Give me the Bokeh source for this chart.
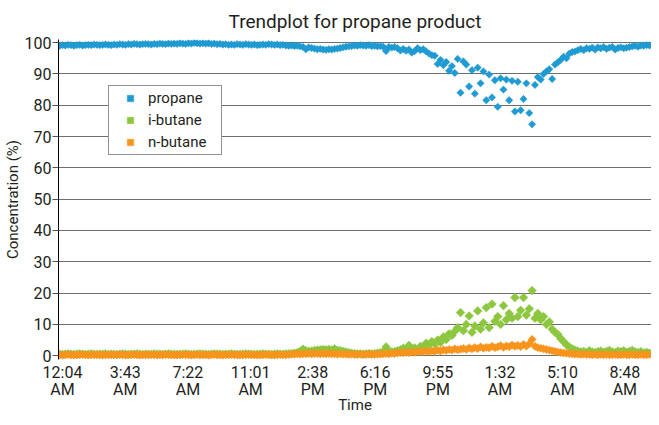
import math
from bokeh.plotting import figure
from bokeh.models import Range1d, FixedTicker, Legend, LegendItem
from bokeh.embed import file_html
from bokeh.resources import INLINE

# sample times, minutes after 12:04 AM (one sample every 10 minutes)
time_min = list(range(-10, 2051, 10))

propane = [
    99.0, 99.2, 99.1, 99.3, 99.2, 99.0, 99.2, 99.3, 99.1, 99.2,
    99.3, 99.2, 99.4, 99.3, 99.2, 99.3, 99.4, 99.3, 99.2, 99.4,
    99.3, 99.5, 99.4, 99.3, 99.5, 99.4, 99.6, 99.5, 99.4, 99.5,
    99.6, 99.5, 99.4, 99.6, 99.5, 99.7, 99.6, 99.5, 99.7, 99.6,
    99.7, 99.6, 99.8, 99.7, 99.6, 99.8, 99.7, 99.9, 99.8, 99.7,
    99.8, 99.7, 99.8, 99.6, 99.7, 99.5, 99.6, 99.4, 99.5, 99.3,
    99.4, 99.3, 99.5, 99.4, 99.3, 99.5, 99.4, 99.3, 99.4, 99.2,
    99.3, 99.4, 99.3, 99.5, 99.4, 99.3, 99.4, 99.2, 99.3, 99.1,
    99.0, 99.1, 98.9, 99.0, 98.8, 98.6, 97.9, 98.5, 98.3, 98.1,
    97.9, 98.0, 97.8, 97.7, 97.9, 97.8, 98.0, 98.1, 98.3, 98.5,
    98.7, 98.8, 98.9, 99.1, 99.0, 99.2, 99.1, 99.0, 99.2, 98.9,
    99.0, 98.8, 98.9, 98.7, 97.3, 98.6, 98.4, 98.6, 98.2, 97.5,
    98.0, 97.4, 97.8, 96.8, 97.3, 98.2, 97.6, 97.9, 97.2, 96.5,
    96.0, 95.8, 93.2, 94.5, 92.8, 93.8, 91.0, 92.5, 90.3, 94.8,
    84.0, 94.0, 93.0, 86.0, 91.2, 83.7, 92.0, 87.0, 90.8, 81.6,
    89.8, 82.5, 88.0, 79.5, 88.6, 85.0, 88.2, 81.6, 87.8, 78.0,
    87.5, 78.4, 82.0, 87.0, 77.5, 73.9, 86.5, 89.0, 88.2, 90.0,
    90.8, 91.5, 88.4, 93.0, 93.7, 94.5, 95.5, 95.0, 96.5, 97.0,
    97.2, 97.6, 98.0, 97.6, 98.2, 98.0, 98.4, 97.8, 98.5, 98.2,
    98.6, 98.0, 98.4, 98.6, 97.8, 98.3, 98.5, 98.2, 98.4, 98.6,
    98.8, 99.0, 98.7, 99.1, 99.0, 99.2, 99.1,
]

i_butane = [
    0.5, 0.4, 0.5, 0.6, 0.5, 0.4, 0.5, 0.6, 0.5, 0.4,
    0.5, 0.6, 0.5, 0.4, 0.5, 0.5, 0.6, 0.4, 0.5, 0.5,
    0.4, 0.5, 0.6, 0.5, 0.4, 0.5, 0.5, 0.6, 0.5, 0.4,
    0.5, 0.5, 0.4, 0.6, 0.5, 0.5, 0.4, 0.5, 0.6, 0.5,
    0.5, 0.4, 0.5, 0.5, 0.6, 0.5, 0.4, 0.5, 0.5, 0.6,
    0.5, 0.5, 0.4, 0.5, 0.6, 0.5, 0.5, 0.4, 0.5, 0.5,
    0.6, 0.5, 0.4, 0.5, 0.5, 0.6, 0.5, 0.5, 0.4, 0.5,
    0.5, 0.6, 0.5, 0.5, 0.4, 0.5, 0.6, 0.5, 0.5, 0.6,
    0.6, 0.7, 0.8, 1.0, 1.4, 2.1, 1.6, 1.4, 1.5, 1.7,
    1.8, 1.9, 2.0, 1.9, 2.0, 1.8, 2.2, 1.7, 1.6, 1.4,
    1.2, 1.0, 0.8, 0.7, 0.6, 0.6, 0.5, 0.6, 0.7, 0.6,
    0.7, 0.8, 1.0, 1.2, 2.8, 1.4, 1.2, 1.3, 1.6, 1.9,
    2.4, 1.8, 3.3, 2.2, 2.5, 1.6, 3.0, 2.4, 4.0, 3.5,
    4.5, 3.8, 5.0, 4.2, 6.0, 5.2, 7.0, 6.5, 7.8, 9.0,
    13.8, 8.0, 10.0, 12.7, 7.5, 9.5, 14.3, 8.5, 10.5, 15.4,
    9.0, 16.5, 11.0, 12.5, 10.0, 16.0, 11.5, 13.5, 12.0, 18.6,
    12.5, 14.5, 18.6, 13.0, 15.0, 20.8, 12.0, 13.5, 11.5, 12.5,
    10.0, 10.8, 8.5, 7.5, 6.8, 5.5, 4.5, 3.5, 2.8, 2.2,
    1.8, 1.5, 1.2, 1.4, 1.0, 1.6, 1.2, 1.0, 1.3, 1.5,
    1.1, 1.4, 1.7, 1.2, 1.0, 1.5, 1.3, 1.6, 1.1, 1.4,
    1.7, 1.2, 1.0, 1.3, 0.9, 1.1, 0.8,
]

n_butane = [
    0.3, 0.2, 0.3, 0.4, 0.3, 0.2, 0.3, 0.3, 0.4, 0.3,
    0.2, 0.3, 0.3, 0.4, 0.3, 0.2, 0.3, 0.4, 0.3, 0.3,
    0.3, 0.4, 0.3, 0.2, 0.3, 0.3, 0.4, 0.3, 0.2, 0.3,
    0.3, 0.3, 0.4, 0.3, 0.2, 0.3, 0.3, 0.4, 0.3, 0.3,
    0.2, 0.3, 0.3, 0.4, 0.3, 0.3, 0.2, 0.3, 0.4, 0.3,
    0.3, 0.3, 0.2, 0.3, 0.4, 0.3, 0.3, 0.2, 0.3, 0.3,
    0.4, 0.3, 0.3, 0.2, 0.3, 0.3, 0.4, 0.3, 0.3, 0.2,
    0.3, 0.3, 0.4, 0.3, 0.3, 0.2, 0.3, 0.4, 0.3, 0.3,
    0.4, 0.5, 0.5, 0.6, 0.5, 0.6, 0.6, 0.7, 0.6, 0.7,
    0.7, 0.6, 0.7, 0.6, 0.7, 0.6, 0.6, 0.5, 0.6, 0.5,
    0.5, 0.4, 0.5, 0.4, 0.4, 0.5, 0.4, 0.4, 0.5, 0.4,
    0.4, 0.5, 0.5, 0.6, 0.7, 0.6, 0.8, 0.7, 0.9, 1.0,
    0.9, 1.1, 1.0, 1.2, 1.1, 1.3, 1.2, 1.4, 1.5, 1.3,
    1.6, 1.4, 1.8, 1.5, 1.9, 1.7, 2.0, 1.8, 2.2, 1.9,
    2.1, 2.3, 2.0, 2.5, 2.2, 2.6, 2.3, 2.8, 2.4, 2.7,
    2.5, 3.0, 2.6, 2.8, 3.2, 2.7, 3.1, 2.9, 3.4, 3.0,
    3.3, 2.9, 3.6, 3.1, 3.8, 5.2, 3.0, 2.6, 2.4, 2.2,
    2.0, 1.8, 1.6, 1.4, 1.2, 1.0, 0.9, 0.8, 0.7, 0.6,
    0.5, 0.5, 0.4, 0.5, 0.4, 0.4, 0.3, 0.4, 0.3, 0.4,
    0.3, 0.4, 0.3, 0.3, 0.4, 0.3, 0.3, 0.4, 0.3, 0.3,
    0.4, 0.3, 0.3, 0.4, 0.3, 0.3, 0.4,
]

tick_minutes = [0, 219, 438, 657, 874, 1092, 1311, 1528, 1746, 1964]
tick_labels = ["12:04\nAM", "3:43\nAM", "7:22\nAM", "11:01\nAM", "2:38\nPM",
               "6:16\nPM", "9:55\nPM", "1:32\nAM", "5:10\nAM", "8:48\nAM"]
y_ticks = [0, 10, 20, 30, 40, 50, 60, 70, 80, 90, 100]

series_names = ["propane", "i-butane", "n-butane"]
series_colors = ["#1f9ad2", "#8dc63f", "#f7941d"]

FONT = "Roboto"
TXT = "#231f20"

p = figure(width=651, height=417, output_backend="svg", toolbar_location=None,
           x_range=Range1d(-14, 2057), y_range=Range1d(-1.2, 101),
           title="Trendplot for propane product",
           min_border_left=50, min_border_right=0, min_border_top=38,
           min_border_bottom=50)
p.outline_line_color = None
p.background_fill_color = "white"

p.title.align = "center"
p.title.text_font = FONT
p.title.text_font_size = "19px"
p.title.text_font_style = "normal"
p.title.text_color = TXT
p.title.standoff = 14

# axes
p.xaxis.ticker = FixedTicker(ticks=tick_minutes)
p.xaxis.major_label_overrides = {t: l for t, l in zip(tick_minutes, tick_labels)}
p.xaxis.axis_label = "Time"
p.xaxis.axis_line_color = None
p.xaxis.major_tick_out = 0
p.xaxis.major_tick_in = 0
p.xaxis.minor_tick_out = 0
p.xaxis.minor_tick_in = 0
p.xaxis.major_label_standoff = 3
p.xaxis.axis_label_standoff = -6
p.xaxis.major_label_text_line_height = 0.93

p.yaxis.ticker = FixedTicker(ticks=y_ticks)
p.yaxis.axis_label = "Concentration (%)"
p.yaxis.axis_line_color = "black"
p.yaxis.major_tick_out = 6
p.yaxis.major_tick_in = 0
p.yaxis.minor_tick_out = 0
p.yaxis.minor_tick_in = 0
p.yaxis.major_tick_line_color = "#555555"
p.yaxis.major_label_standoff = 1
p.yaxis.axis_label_standoff = 0

for ax in (p.xaxis[0], p.yaxis[0]):
    ax.major_label_text_font = FONT
    ax.major_label_text_font_size = "16px"
    ax.major_label_text_color = TXT
    ax.axis_label_text_font = FONT
    ax.axis_label_text_font_size = "15px"
    ax.axis_label_text_font_style = "normal"
    ax.axis_label_text_color = TXT

p.xgrid.grid_line_color = None
p.ygrid.ticker = FixedTicker(ticks=y_ticks)
p.ygrid.grid_line_color = "#6f6f6f"
p.ygrid.grid_line_width = 1

rot = math.pi / 4
r_pro = p.scatter(time_min, propane, marker="square", angle=rot, size=5.2,
                  fill_color=series_colors[0], line_color=series_colors[0], line_width=0.5)
r_ib = p.scatter(time_min, i_butane, marker="square", angle=rot, size=6.2,
                 fill_color=series_colors[1], line_color=series_colors[1], line_width=0.5)
r_nb = p.scatter(time_min, n_butane, marker="square", angle=rot, size=5.8,
                 fill_color=series_colors[2], line_color=series_colors[2], line_width=0.5)

legend = Legend(items=[LegendItem(label=series_names[0], renderers=[r_pro]),
                       LegendItem(label=series_names[1], renderers=[r_ib]),
                       LegendItem(label=series_names[2], renderers=[r_nb])],
                location=(50, 204), orientation="vertical")
legend.label_text_font = FONT
legend.label_text_font_size = "15px"
legend.label_text_color = TXT
legend.border_line_color = "#231f20"
legend.border_line_width = 1
legend.background_fill_color = "white"
legend.background_fill_alpha = 1.0
legend.padding = 3
legend.spacing = 4
legend.margin = 0
legend.glyph_height = 16
legend.label_height = 16
legend.glyph_width = 36
legend.label_standoff = 0
legend.label_width = 70
p.add_layout(legend, "center")

open("out.html", "w").write(file_html(p, INLINE))
